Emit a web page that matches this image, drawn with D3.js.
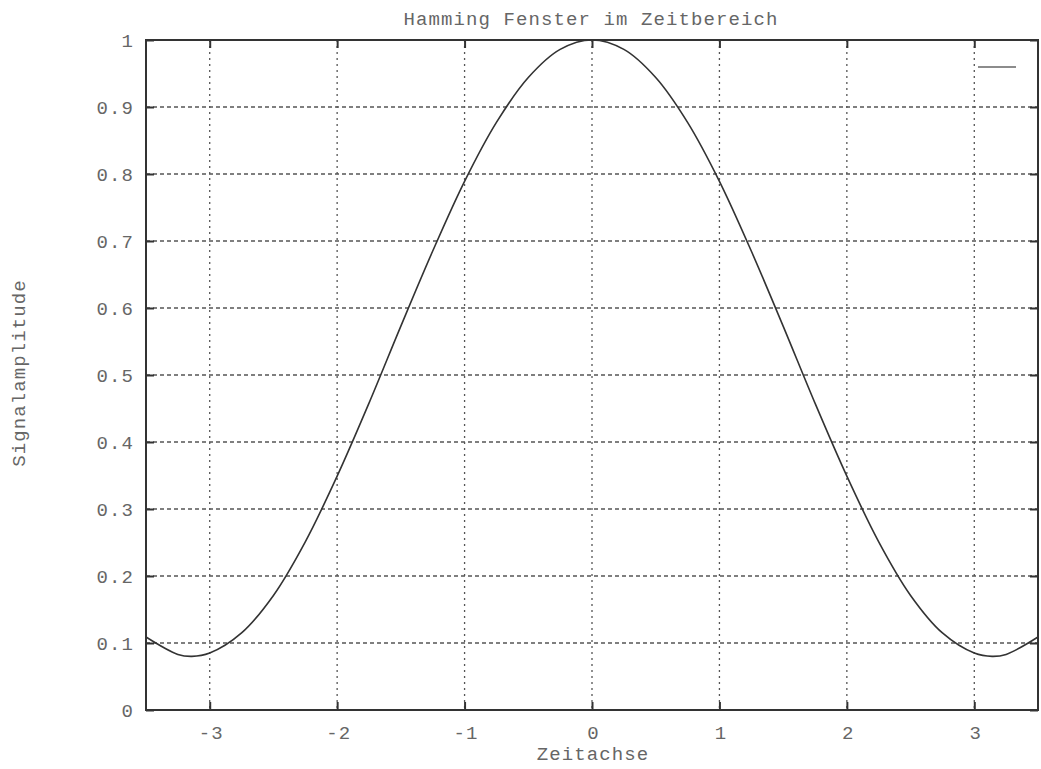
<!DOCTYPE html>
<html>
<head>
<meta charset="utf-8">
<script src="https://cdn.jsdelivr.net/npm/d3@7"></script>
<style>
  body { margin: 0; background: #fff; }
  text { font-family: "Liberation Mono", "DejaVu Sans Mono", monospace; fill: #666; }
</style>
</head>
<body>
<div id="chart"></div>
<script>
// values
var zeit = [-3.5, -3.25, -3.14, -3, -2.75, -2.5, -2.25, -2, -1.75, -1.5, -1.25, -1, -0.75, -0.5, -0.25, 0,
            0.25, 0.5, 0.75, 1, 1.25, 1.5, 1.75, 2, 2.25, 2.5, 2.75, 3, 3.14, 3.25, 3.5];
var amplitude = [0.109, 0.083, 0.080, 0.085, 0.115, 0.171, 0.251, 0.349, 0.458, 0.573, 0.685, 0.789, 0.877, 0.944, 0.986, 1.0,
                 0.986, 0.944, 0.877, 0.789, 0.685, 0.573, 0.458, 0.349, 0.251, 0.171, 0.115, 0.085, 0.080, 0.083, 0.109];
var xTicks = [-3, -2, -1, 0, 1, 2, 3];
var yTicks = [0, 0.1, 0.2, 0.3, 0.4, 0.5, 0.6, 0.7, 0.8, 0.9, 1];

var width = 1041, height = 769;
var plotLeft = 146, plotRight = 1038, plotTop = 40, plotBottom = 710;
var fontSize = "19px", spacing = "1.1px";

var svg = d3.select("#chart").append("svg")
    .attr("width", width)
    .attr("height", height);

var x = d3.scaleLinear().domain([-3.5, 3.5]).range([plotLeft, plotRight]);
var y = d3.scaleLinear().domain([0, 1]).range([plotBottom, plotTop]);

// grid
svg.selectAll(".gx")
    .data(xTicks)
    .enter().append("line")
    .attr("x1", d => x(d)).attr("x2", d => x(d))
    .attr("y1", plotTop).attr("y2", plotBottom)
    .style("stroke", "#555")
    .style("stroke-width", 1.3)
    .style("stroke-dasharray", "2,4");

svg.selectAll(".gy")
    .data(yTicks.filter(d => d > 0 && d < 1))
    .enter().append("line")
    .attr("x1", plotLeft).attr("x2", plotRight)
    .attr("y1", d => y(d)).attr("y2", d => y(d))
    .style("stroke", "#555")
    .style("stroke-width", 1.3)
    .style("stroke-dasharray", "4,3");

// axes with inward ticks on all sides
var tickLen = 8;
var fmtY = d => (d === 0 || d === 1) ? String(d) : d.toFixed(1);

var gx = svg.append("g")
    .attr("transform", `translate(0,${plotBottom})`)
    .call(d3.axisBottom(x).tickValues(xTicks).tickSizeInner(-tickLen).tickSizeOuter(0).tickPadding(16).tickFormat(d => String(d)));
svg.append("g")
    .attr("transform", `translate(0,${plotTop})`)
    .call(d3.axisTop(x).tickValues(xTicks).tickSizeInner(-tickLen).tickSizeOuter(0).tickFormat(""));
svg.append("g")
    .attr("transform", `translate(${plotLeft},0)`)
    .call(d3.axisLeft(y).tickValues(yTicks).tickSizeInner(-tickLen).tickSizeOuter(0).tickPadding(12).tickFormat(fmtY));
svg.append("g")
    .attr("transform", `translate(${plotRight},0)`)
    .call(d3.axisRight(y).tickValues(yTicks).tickSizeInner(-tickLen).tickSizeOuter(0).tickFormat(""));

svg.selectAll(".domain").remove();
svg.selectAll(".tick line").style("stroke", "#333").style("stroke-width", 2);
svg.selectAll(".tick text").style("font-size", fontSize).style("fill", "#666")
    .style("letter-spacing", spacing)
    .style("font-family", "'Liberation Mono', monospace");
gx.selectAll(".tick text").attr("dx", 1);

// frame
svg.append("rect")
    .attr("x", plotLeft).attr("y", plotTop)
    .attr("width", plotRight - plotLeft).attr("height", plotBottom - plotTop)
    .style("fill", "none")
    .style("stroke", "#333")
    .style("stroke-width", 2);

// curve
var line = d3.line()
    .x((d, i) => x(zeit[i]))
    .y(d => y(d))
    .curve(d3.curveCatmullRom);

svg.append("path")
    .datum(amplitude)
    .attr("d", line)
    .style("fill", "none")
    .style("stroke", "#333")
    .style("stroke-width", 1.6);

// legend sample
svg.append("line")
    .attr("x1", 978).attr("x2", 1016)
    .attr("y1", 67).attr("y2", 67)
    .style("stroke", "#666")
    .style("stroke-width", 1.6);

// titles
svg.append("text")
    .attr("x", 591).attr("y", 25)
    .attr("text-anchor", "middle")
    .style("font-size", fontSize)
    .style("letter-spacing", spacing)
    .text("Hamming Fenster im Zeitbereich");

svg.append("text")
    .attr("x", 593).attr("y", 760)
    .attr("text-anchor", "middle")
    .style("font-size", fontSize)
    .style("letter-spacing", spacing)
    .text("Zeitachse");

svg.append("text")
    .attr("transform", "translate(25,373) rotate(-90)")
    .attr("text-anchor", "middle")
    .style("font-size", fontSize)
    .style("letter-spacing", spacing)
    .text("Signalamplitude");
</script>
</body>
</html>
